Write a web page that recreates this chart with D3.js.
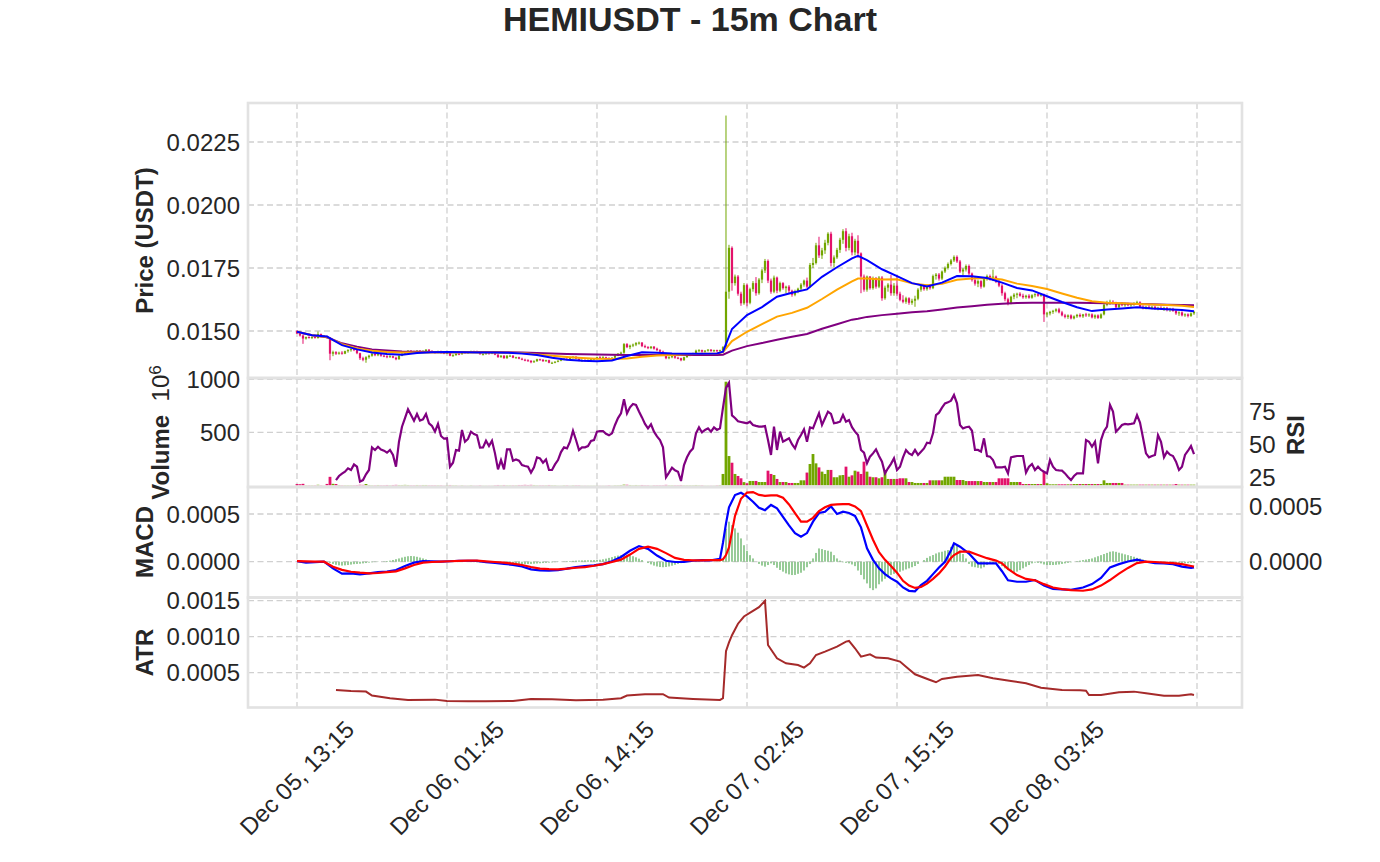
<!DOCTYPE html>
<html>
<head>
<meta charset="utf-8">
<script src="https://cdn.jsdelivr.net/npm/d3@7"></script>
<style>
  body { margin: 0; background: #fff; }
  text { font-family: "Liberation Sans", Arial, sans-serif; fill: #262626; }
</style>
</head>
<body>
<script>
// prices, MACD and ATR are kept in 1e-5 USDT, volume in 1e6
var UNIT = 1e-5;

var tickIdx = [0, 50, 100, 150, 200, 250, 300];
var tickLabels = ["Dec 05, 13:15", "Dec 06, 01:45", "Dec 06, 14:15", "Dec 07, 02:45", "Dec 07, 15:15", "Dec 08, 03:45", ""];

// open, high, low, close per 15m candle
var candles = [
[1500,1503,1488,1490],[1490,1493,1478,1482],[1482,1486,1449,1470],[1470,1478,1466,1476],[1476,1479,1470,1474],
[1474,1478,1468,1476],[1476,1480,1470,1472],[1472,1498,1470,1488],[1488,1490,1475,1478],[1478,1484,1474,1480],
[1480,1482,1470,1474],[1474,1476,1384,1410],[1410,1422,1400,1416],[1416,1420,1405,1410],[1410,1418,1406,1414],
[1414,1420,1406,1410],[1410,1422,1408,1420],[1420,1428,1414,1424],[1424,1432,1418,1428],[1428,1434,1420,1424],
[1424,1430,1408,1412],[1412,1414,1385,1392],[1392,1398,1380,1386],[1386,1400,1374,1396],[1396,1406,1390,1402],
[1402,1412,1398,1410],[1410,1412,1400,1404],[1404,1412,1400,1408],[1408,1410,1398,1402],[1402,1406,1396,1400],
[1400,1404,1392,1396],[1396,1404,1394,1400],[1400,1402,1392,1394],[1394,1398,1384,1388],[1388,1404,1386,1402],
[1402,1412,1400,1410],[1410,1418,1406,1416],[1416,1424,1412,1422],[1422,1424,1414,1418],[1418,1422,1412,1416],
[1416,1424,1414,1422],[1422,1424,1414,1418],[1418,1424,1416,1420],[1420,1428,1418,1426],[1426,1428,1418,1420],
[1420,1424,1414,1418],[1418,1420,1410,1414],[1414,1422,1412,1420],[1420,1422,1410,1414],[1414,1418,1408,1412],
[1412,1416,1408,1414],[1414,1416,1400,1402],[1402,1408,1398,1404],[1404,1412,1402,1410],[1410,1412,1404,1408],
[1408,1420,1406,1418],[1418,1420,1410,1412],[1412,1418,1410,1416],[1416,1422,1414,1420],[1420,1422,1414,1418],
[1418,1422,1414,1416],[1416,1418,1406,1408],[1408,1412,1404,1408],[1408,1416,1406,1414],[1414,1416,1406,1410],
[1410,1418,1408,1414],[1414,1416,1404,1406],[1406,1408,1394,1396],[1396,1404,1394,1402],[1402,1404,1390,1392],
[1392,1404,1390,1402],[1402,1406,1398,1402],[1402,1404,1392,1394],[1394,1398,1390,1396],[1396,1398,1388,1390],
[1390,1394,1384,1386],[1386,1390,1380,1384],[1384,1388,1378,1382],[1382,1384,1372,1376],[1376,1384,1374,1380],
[1380,1390,1378,1388],[1388,1390,1382,1386],[1386,1388,1378,1380],[1380,1386,1378,1384],[1384,1386,1372,1374],
[1374,1378,1370,1374],[1374,1380,1372,1378],[1378,1384,1376,1382],[1382,1390,1380,1388],[1388,1392,1384,1390],
[1390,1392,1384,1388],[1388,1396,1386,1394],[1394,1400,1390,1398],[1398,1400,1388,1390],[1390,1392,1380,1382],
[1382,1388,1378,1384],[1384,1388,1380,1382],[1382,1388,1378,1384],[1384,1390,1380,1388],[1388,1392,1384,1390],
[1390,1398,1386,1396],[1396,1400,1390,1394],[1394,1400,1390,1396],[1396,1398,1388,1392],[1392,1396,1386,1390],
[1390,1396,1386,1394],[1394,1404,1392,1402],[1402,1412,1400,1410],[1410,1418,1406,1414],[1414,1452,1410,1448],
[1448,1452,1432,1436],[1436,1446,1428,1442],[1442,1450,1436,1446],[1446,1456,1440,1452],[1452,1458,1446,1454],
[1454,1456,1436,1440],[1440,1446,1432,1436],[1436,1440,1428,1432],[1432,1440,1428,1438],[1438,1440,1426,1430],
[1430,1434,1420,1424],[1424,1428,1414,1418],[1418,1422,1408,1412],[1412,1414,1388,1392],[1392,1400,1388,1396],
[1396,1404,1392,1400],[1400,1402,1390,1394],[1394,1398,1388,1392],[1392,1394,1380,1384],[1384,1398,1382,1396],
[1396,1406,1394,1404],[1404,1410,1400,1408],[1408,1414,1404,1410],[1410,1426,1408,1422],[1422,1428,1416,1424],
[1424,1426,1414,1418],[1418,1424,1414,1422],[1422,1428,1418,1426],[1426,1428,1418,1420],[1420,1426,1416,1424],
[1424,1426,1416,1420],[1420,1426,1416,1424],[1424,1440,1420,1436],[1436,2355,1430,1656],[1656,1842,1628,1830],
[1830,1836,1660,1690],[1690,1724,1680,1716],[1716,1722,1640,1648],[1648,1656,1600,1610],[1610,1690,1604,1682],
[1682,1688,1598,1612],[1612,1672,1606,1666],[1666,1698,1656,1690],[1690,1714,1640,1650],[1650,1710,1644,1704],
[1704,1746,1690,1740],[1740,1786,1730,1778],[1778,1784,1690,1700],[1700,1708,1648,1656],[1656,1720,1650,1712],
[1712,1716,1650,1660],[1660,1696,1654,1690],[1690,1694,1664,1670],[1670,1680,1650,1676],[1676,1682,1650,1660],
[1660,1664,1636,1644],[1644,1664,1638,1658],[1658,1672,1650,1668],[1668,1690,1660,1684],[1684,1704,1676,1700],
[1700,1712,1670,1676],[1676,1770,1672,1762],[1762,1790,1750,1770],[1770,1850,1764,1840],[1840,1874,1790,1800],
[1800,1830,1786,1820],[1820,1862,1806,1850],[1850,1892,1840,1886],[1886,1894,1756,1770],[1770,1800,1752,1792],
[1792,1830,1786,1822],[1822,1870,1810,1862],[1862,1904,1846,1896],[1896,1908,1816,1830],[1830,1886,1820,1876],
[1876,1890,1800,1812],[1812,1866,1800,1858],[1858,1880,1790,1808],[1808,1812,1650,1716],[1716,1724,1656,1664],
[1664,1720,1656,1716],[1716,1718,1664,1670],[1670,1716,1664,1710],[1710,1714,1668,1676],[1676,1718,1670,1712],
[1712,1718,1620,1630],[1630,1680,1624,1672],[1672,1690,1656,1684],[1684,1722,1640,1650],[1650,1690,1640,1680],
[1680,1722,1640,1648],[1648,1656,1618,1624],[1624,1642,1610,1616],[1616,1636,1608,1630],[1630,1634,1604,1612],
[1612,1628,1604,1620],[1620,1640,1596,1628],[1628,1670,1622,1664],[1664,1684,1656,1680],[1680,1684,1660,1666],
[1666,1686,1660,1682],[1682,1686,1664,1670],[1670,1724,1666,1718],[1718,1730,1704,1724],[1724,1730,1700,1708],
[1708,1740,1702,1736],[1736,1756,1730,1750],[1750,1772,1744,1766],[1766,1786,1760,1780],[1780,1800,1774,1794],
[1794,1800,1770,1776],[1776,1782,1730,1736],[1736,1750,1720,1744],[1744,1764,1736,1758],[1758,1764,1722,1728],
[1728,1732,1696,1702],[1702,1716,1680,1688],[1688,1704,1674,1698],[1698,1702,1668,1676],[1676,1712,1672,1706],
[1706,1724,1700,1718],[1718,1724,1700,1712],[1712,1744,1698,1716],[1716,1720,1690,1696],[1696,1704,1674,1680],
[1680,1686,1640,1650],[1650,1656,1618,1626],[1626,1632,1602,1610],[1610,1640,1606,1636],[1636,1650,1626,1644],
[1644,1652,1630,1648],[1648,1654,1636,1640],[1640,1648,1628,1634],[1634,1644,1628,1640],[1640,1646,1628,1632],
[1632,1646,1628,1642],[1642,1650,1634,1646],[1646,1650,1636,1640],[1640,1648,1636,1644],[1644,1648,1536,1566],
[1566,1576,1556,1570],[1570,1580,1562,1576],[1576,1584,1568,1580],[1580,1590,1574,1586],[1586,1592,1570,1574],
[1574,1580,1558,1562],[1562,1568,1550,1556],[1556,1566,1548,1562],[1562,1566,1546,1550],[1550,1562,1546,1558],
[1558,1568,1552,1564],[1564,1570,1554,1558],[1558,1568,1552,1566],[1566,1572,1556,1562],[1562,1570,1556,1566],
[1566,1570,1550,1554],[1554,1566,1548,1562],[1562,1566,1548,1552],[1552,1570,1548,1566],[1566,1610,1562,1604],
[1604,1620,1598,1612],[1612,1624,1604,1616],[1616,1622,1606,1610],[1610,1616,1588,1594],[1594,1610,1590,1606],
[1606,1614,1598,1602],[1602,1612,1596,1608],[1608,1612,1598,1602],[1602,1610,1596,1606],[1606,1614,1600,1610],
[1610,1620,1604,1614],[1614,1618,1592,1596],[1596,1602,1586,1590],[1590,1600,1586,1596],[1596,1602,1588,1592],
[1592,1600,1586,1596],[1596,1600,1584,1588],[1588,1596,1582,1592],[1592,1598,1584,1588],[1588,1596,1580,1592],
[1592,1596,1578,1584],[1584,1592,1576,1588],[1588,1592,1576,1580],[1580,1586,1564,1570],[1570,1578,1560,1574],
[1574,1578,1558,1562],[1562,1570,1556,1566],[1566,1570,1554,1560],[1560,1574,1556,1570],[1570,1580,1564,1576]
];

var volumes = [
12,10,14,2,2,2,2,5,2,1, 13,80,14,12,3,2,2,2,2,2, 3,5,4,12,3,2,2,3,2,2, 3,2,3,4,3,3,4,3,2,2,
3,2,3,3,2,2,2,2,2,1, 2,3,2,2,1,2,1,1,2,1, 1,2,1,1,1,1,2,3,2,3, 2,2,2,2,3,3,4,3,4,3,
2,2,2,2,3,2,2,1,1,2, 2,1,2,2,2,1,1,1,1,1, 1,1,1,1,2,1,2,2,3,6, 5,3,2,3,2,3,2,2,1,2,
2,2,2,4,2,2,2,2,3,2, 2,2,2,3,2,2,1,1,1,1, 2,3,107,977,276,213,107,88,66,30, 19,41,41,41,31,31,31,138,107,97,
60,31,31,31,22,22,22,22,47,47, 120,201,295,207,169,129,107,145,145,76, 76,94,97,176,81,94,138,129,107,223, 129,81,76,76,66,76,145,60,60,60,
60,66,66,66,31,31,22,22,22,22, 22,47,47,47,47,47,81,81,81,81, 50,50,50,40,40,40,40,40,40,31, 31,31,31,31,66,66,66,66,31,31,
31,31,12,12,12,12,12,12,12,129, 19,9,9,9,9,9,9,9,9,12, 12,12,12,12,12,12,12,12,12,47, 22,22,22,22,22,22,6,6,6,6,
6,6,6,6,6,6,6,6,6,6, 6,6,6,12,6,6,6,6,6,6
];

// moving averages as [candle index, value]
var maFast = [[0,1497],[5,1483],[10,1478],[15,1444],[20,1427],[25,1415],[30,1409],[35,1406],[40,1413],[45,1416],
[50,1417],[55,1416],[60,1415],[65,1415],[70,1414],[75,1411],[80,1405],[85,1394],[90,1386],[95,1382],
[100,1380],[105,1383],[110,1401],[115,1416],[120,1414],[125,1411],[130,1410],[135,1410],[140,1411],[142,1418],
[145,1508],[150,1563],[155,1595],[160,1636],[165,1652],[170,1665],[175,1715],[180,1753],[185,1788],[187,1798],
[190,1781],[195,1745],[200,1718],[205,1690],[210,1677],[215,1692],[220,1718],[225,1717],[230,1710],[235,1692],
[240,1671],[245,1661],[250,1638],[255,1615],[260,1594],[265,1579],[270,1585],[275,1589],[280,1594],[285,1589],
[290,1586],[295,1583],[299,1578]];
var maMid = [[0,1497],[5,1483],[10,1476],[15,1448],[20,1431],[25,1422],[30,1417],[35,1415],[40,1415],[45,1415],
[50,1415],[55,1415],[60,1415],[65,1415],[70,1414],[75,1413],[80,1407],[85,1402],[90,1397],[95,1393],
[100,1390],[105,1389],[110,1391],[115,1398],[120,1403],[125,1405],[130,1408],[135,1410],[140,1411],[142,1416],
[145,1460],[150,1497],[155,1527],[160,1557],[165,1572],[170,1592],[175,1627],[180,1664],[185,1697],[187,1708],
[190,1708],[195,1704],[200,1705],[205,1689],[210,1682],[215,1687],[220,1703],[225,1708],[230,1710],[235,1704],
[240,1688],[245,1679],[250,1667],[255,1649],[260,1632],[265,1618],[270,1612],[275,1610],[280,1607],[285,1605],
[290,1603],[295,1600],[299,1595]];
var maSlow = [[0,1497],[5,1483],[10,1475],[15,1451],[20,1438],[25,1427],[30,1423],[35,1419],[40,1418],[45,1417],
[50,1417],[55,1417],[60,1417],[65,1417],[70,1416],[75,1415],[80,1413],[85,1411],[90,1409],[95,1408],
[100,1407],[105,1406],[110,1405],[115,1405],[120,1405],[125,1405],[130,1405],[135,1405],[140,1405],[142,1406],
[145,1422],[150,1440],[155,1452],[160,1465],[165,1477],[170,1488],[175,1509],[180,1527],[185,1545],[187,1549],
[190,1556],[195,1563],[200,1568],[205,1574],[210,1578],[215,1585],[220,1593],[225,1598],[230,1604],[235,1608],
[240,1611],[245,1612],[250,1612],[255,1612],[260,1612],[265,1611],[270,1610],[275,1609],[280,1607],[285,1606],
[290,1604],[295,1603],[299,1602]];

// RSI, one value per candle from rsiStart on
var rsiStart = 13;
var rsi = [
22.6,25.7,27.5,29.0,31.6,30.3,34.6,32.8,21.4,22.6, 27,30.3,47.6,45.6,48.1,46,45.1,43.5,45.6,41.8,
32.8,51.9,63.4,70,76.7,72.3,68.0,73.1,68.0,69.0, 73.1,66.0,63.9,59.6,65.5,56.3,54.2,54.5,32.8,35.9,
45.6,45.1,60.9,51.9,54.0,59.6,57.8,56.8,47.4,47.6, 52.7,48.6,52.7,43.0,30.8,37.9,30.8,46.1,46.1,37.4,
38.4,37.4,34.1,33.3,32.8,28.3,32.3,40.0,39.2,35.9, 38.4,30.3,30.3,34.6,37.9,44,47.6,46.8,51.9,60.3,
53.2,45.6,47.6,47.6,48.6,52.5,53.2,59.6,60.0,60.1, 58,56.8,58.3,64.7,70,73.6,84.3,73.6,78.2,80.7,
80.0,75,70.5,65.5,62.1,65.2,59.6,56,53.2,47.6, 24.7,28.3,32.1,30,29.0,21.9,34.1,40,44.3,46.8,
58.3,62.9,59,60.9,62.1,59.6,62.9,60.9,62.1,78, 93,97,72,70,67.5,67,66.5,66,67.2,64.7,
64,63.4,63.5,63.9,53.2,41.8,63.4,45.6,59.6,51.9, 53.2,54.5,50,46.8,53.2,57.0,61.4,51.9,62.9,62.1,
68,73.6,64.7,69.8,74.9,73.1,66.0,66.5,67.2,72.3, 67.2,68.5,63,59.6,57.0,45.6,43.5,35.4,40.5,43,
46.1,41.0,36.7,27.7,31.6,35,39.2,30.3,32.8,40.0, 45.6,43,41.8,45.6,41.8,44.3,46.8,51.2,50.7,58.3,
72.3,74.1,78,81.2,82,83.3,87.6,81.2,64.7,62.1, 63,63.4,60.3,45.6,45.6,44.3,54.5,41.0,40.5,37.9,
32.3,32.3,32.3,32.8,27.7,40.0,40.5,41.0,41.0,41, 28.3,32.8,34.9,30.3,32.8,30.3,29,27.7,37.9,32.8,
30.3,30,29.8,27.7,25,22.6,25.7,27.7,27.7,27.7, 53.2,51.9,48.1,51.9,35.4,53.2,60,63.4,80.0,74.9,
59.6,62,64.7,65.5,65.2,65.5,66.0,72.3,66.5,55, 43.0,40.0,41,41.8,57.0,51.9,40.0,44.3,42,41.0,
36.7,30.3,32.8,41.8,45,48.6,42.5
];

// MACD line and signal as [candle index, value]
var macdLine = [[0,0.7],[3,-1],[6,-0.5],[9,0],[12,-7],[15,-12.5],[18,-12.3],[21,-13.3],[24,-12.2],[27,-11],
[30,-10.4],[33,-8.7],[36,-4.5],[39,-1],[42,0.7],[45,0.3],[48,0],[51,0.5],[54,1],[57,1],
[60,0.8],[63,-0.5],[66,-1.2],[69,-2.2],[72,-3.3],[75,-5],[78,-8],[81,-9],[84,-9.4],[87,-8.9],
[90,-7.2],[93,-5.6],[96,-4.6],[99,-3.8],[102,-2.5],[105,0.5],[108,5],[111,11.5],[114,16.4],[117,13.5],
[120,6.5],[123,1],[126,-0.3],[129,-0.3],[132,1],[135,1.7],[138,1.5],[141,3],[142,20],[143,40],
[144,57],[146,69.9],[148,72.3],[150,68.5],[152,62.9],[154,56.5],[156,54],[158,59.5],[160,56],[162,47],
[164,38],[166,30],[168,26.2],[170,30],[172,42],[174,51],[176,52.4],[178,58],[180,50],[182,52.4],
[184,51],[186,48],[188,36],[190,14],[192,2],[194,-7],[196,-13],[198,-17.5],[200,-21],[202,-27],
[204,-30.5],[206,-31],[208,-24.5],[210,-20],[212,-13],[214,-6],[216,0],[218,12],[219,19.2],[221,15.7],
[224,8.5],[227,-1.7],[230,-1.7],[233,-1.7],[235,-10],[237,-19.5],[240,-21],[243,-21],[246,-19.2],[249,-25],
[252,-28.5],[255,-29],[258,-29.5],[262,-27],[265,-23.5],[268,-17],[271,-5.9],[274,-2.5],[277,0.2],[280,2.2],
[283,0],[286,-1.5],[289,-1.7],[292,-2.5],[295,-5.2],[298,-6.5],[299,-5.9]];
var macdSignal = [[0,0.7],[3,0.3],[6,0],[9,0],[12,-5.2],[15,-8.5],[18,-10.5],[21,-11.5],[24,-12.2],[27,-11.8],
[30,-11],[33,-10.1],[36,-7],[39,-3.5],[42,-1],[45,-0.3],[48,0],[51,0.5],[54,0.8],[57,1.2],
[60,1.2],[63,0.4],[66,-0.3],[69,-0.9],[72,-2],[75,-3.4],[78,-5.5],[81,-7.3],[84,-7.8],[87,-8],
[90,-7.3],[93,-6.3],[96,-5.6],[99,-4.2],[102,-2.5],[105,-0.3],[108,2.2],[111,7.5],[114,13.5],[117,15.7],
[120,13.5],[123,9],[126,4],[129,2],[132,1.5],[135,1.4],[138,1.6],[141,1.7],[142,2.5],[143,7],
[144,15],[146,48],[148,66],[150,72.5],[152,73],[154,70],[156,69],[158,69.5],[160,69.5],[162,67],
[164,60],[166,51],[168,42],[170,42],[172,46],[174,53],[176,57],[178,59.5],[180,60],[182,60.4],
[184,60.3],[186,58],[188,53],[190,38],[192,23],[194,10],[196,2],[198,-4.5],[200,-11.5],[202,-20],
[204,-25],[206,-27.5],[208,-26.5],[210,-23],[212,-18],[214,-12.2],[216,-5],[218,4],[219,7],[221,10.5],
[224,10.5],[227,7],[230,3.7],[233,1.2],[235,-1.7],[237,-7.5],[240,-14],[243,-18],[246,-19.5],[249,-23.5],
[252,-27],[255,-28.8],[258,-29.7],[262,-30.4],[265,-29],[268,-25],[271,-19.2],[274,-12.5],[277,-6.5],[280,-1.5],
[283,0],[286,-0.3],[289,-1],[292,-1.5],[295,-2.5],[298,-4.5],[299,-5.2]];

// MACD histogram, one bar per candle (right axis)
var macdHist = [
0,-0.3,-0.5,-0.5,-0.3,0,0.2,0.3,0.2,0, -0.3,-1,-2,-2.8,-3.3,-3.5,-3.3,-3,-2.6,-2.2,
-2,-1.8,-1.5,-1.2,-0.8,-0.5,-0.3,-0.2,0,0.3, 0.6,1,1.6,2.3,3,3.8,4.5,5,5.2,5,
4.5,3.8,3,2.2,1.5,0.8,0.4,0.2,0,0, 0,0,0.2,0.3,0.3,0.2,0,-0.2,-0.3,-0.4,
-0.5,-0.6,-0.7,-0.8,-0.9,-1,-1.1,-1.2,-1.2,-1.3, -1.3,-1.4,-1.6,-1.8,-2,-2.1,-2.2,-2.1,-2,-1.8,
-1.6,-1.4,-1.2,-1,-0.8,-0.6,-0.4,-0.2,0,0.2, 0.4,0.6,0.8,1,1.1,1.2,1.3,1.3,1.4,1.5,
1.6,1.8,2.2,2.8,3.5,4.2,5,5.6,6,6.3, 6.2,5.8,5,4,2.8,1.5,0,-1.2,-2.4,-3.5,
-4.3,-4.8,-5,-4.8,-4.3,-3.6,-2.8,-2,-1.3,-0.7, -0.2,0.2,0.4,0.5,0.4,0.3,0.2,0.1,0,0,
0.2,0.5,3,30,36.4,33.3,30.3,26.4,21.2,15, 10,6,3,0,-2,-3.5,-4.5,-3,-1.5,-3,
-5.5,-7.5,-9,-10.6,-11.5,-12.1,-12,-11,-10,-8, -5,-2,3,8,12.1,11.5,10.6,10,9.1,6,
3,1,-0.5,-1,-1.5,-2.5,-4,-8,-12,-16, -19.7,-24,-25.8,-24.2,-20.5,-18,-15.5,-13.6,-12,-11,
-10,-9.1,-8,-7,-6,-5,-3.9,-2,0,1.5, 3.5,5,6.1,7.5,8.5,9.1,10,10.6,13.5,16.7,
15,10,7,3,-2,-4.5,-5,-5.5,-6.1,-5, -3,-2,-1.5,-1,-2,-4,-6,-7.6,-9,-10,
-9,-7.6,-6,-4.5,-3,-1.5,-0.8,-1,-1.5,-2.5, -3,-3,-3,-2.8,-2.5,-2,-1.5,-1,-0.5,0,
0.5,1,1.5,2,2.5,3,4,5,6,7, 8,9.1,9.5,9,8.2,7.5,6.7,6,5.2,4.5,
3.5,3,2,1,0.5,0,-0.3,-0.5,-0.6,-0.7, -0.8,-0.8,-0.9,-1,-1,-1.2,-1.3,-1.3,-1.2,-1
];

// ATR as [candle index, value]
var atr = [[13,26],[18,24.6],[23,23.8],[25,18.2],[31,14.5],[37,12.2],[46,12.6],[50,10.7],[57,10.3],[63,10.3],
[72,10.7],[78,13.5],[85,13],[93,11.7],[102,12.6],[108,14.5],[110,18.2],[116,20.1],[122,20.1],[124,15.4],
[132,13.5],[141,12.1],[142,14.5],[143,80],[144,92],[145,102],[146,110],[147,118],[149,128],[152,135.8],
[154,141],[156,149.7],[157,88.4],[160,69.9],[163,63],[167,60.7],[169,57],[171,63],[173,74.6],[176,79.3],
[180,86.2],[183,93.2],[184,94.1],[186,83.9],[188,72.3],[191,75.6],[193,71],[197,70],[201,65.4],[203,58.4],
[206,47.8],[211,39.9],[213,36.7],[215,41.3],[220,44.5],[227,46.8],[232,42.2],[238,38.5],[243,35.2],[248,29.2],
[255,26],[261,25.5],[263,25],[264,19],[268,19],[274,22.7],[279,23.7],[283,21.3],[289,18.1],[294,18.1],
[298,20],[299,19]];

var UP = "#72a600", DOWN = "#e3126b";

var svg = d3.select("body").append("svg")
    .attr("width", 1380)
    .attr("height", 862);

var left = 248, right = 1242;
var x = d3.scaleLinear().domain([-16.33, 315]).range([left, right]);

var panels = {
  price: [103, 378],
  vol:   [378, 487],
  macd:  [487, 597.5],
  atr:   [597.5, 707.5]
};

var yPrice = d3.scaleLinear().domain([1313.5, 2404.8]).range([378, 103]);
var yVol = d3.scaleLinear().domain([-16, 1012]).range([487, 378]);
var yRsi = d3.scaleLinear().domain([17.3, 100.6]).range([487, 378]);
var yMacd = d3.scaleLinear().domain([-37.5, 78.3]).range([597.5, 487]);
var yHist = d3.scaleLinear().domain([-32.5, 67.9]).range([597.5, 487]);
var yAtr = d3.scaleLinear().domain([1.67, 154.4]).range([707.5, 597.5]);

var defs = svg.append("defs");
Object.keys(panels).forEach(function (k) {
  defs.append("clipPath").attr("id", "clip-" + k)
    .append("rect")
    .attr("x", left).attr("y", panels[k][0])
    .attr("width", right - left).attr("height", panels[k][1] - panels[k][0]);
});

var gridColor = "#d0d0d0";

function grid(panel, scale, ticks) {
  var g = svg.append("g");
  g.selectAll("line.v").data(tickIdx).enter().append("line")
    .attr("x1", function (d) { return x(d); }).attr("x2", function (d) { return x(d); })
    .attr("y1", panels[panel][0]).attr("y2", panels[panel][1])
    .attr("stroke", gridColor).attr("stroke-width", 1.3).attr("stroke-dasharray", "6,3.5");
  g.selectAll("line.h").data(ticks).enter().append("line")
    .attr("x1", left).attr("x2", right)
    .attr("y1", function (d) { return scale(d); }).attr("y2", function (d) { return scale(d); })
    .attr("stroke", gridColor).attr("stroke-width", 1.3).attr("stroke-dasharray", "6,3.5");
}

function leftLabels(scale, ticks, fmt) {
  svg.append("g").selectAll("text").data(ticks).enter().append("text")
    .attr("x", 240).attr("y", function (d) { return scale(d); })
    .attr("dy", "0.36em").attr("text-anchor", "end")
    .style("font-size", "24px")
    .text(fmt);
}

function rightLabels(scale, ticks, fmt) {
  svg.append("g").selectAll("text").data(ticks).enter().append("text")
    .attr("x", 1249).attr("y", function (d) { return scale(d); })
    .attr("dy", "0.36em").attr("text-anchor", "start")
    .style("font-size", "24px")
    .text(fmt);
}

function fmtUnit(d) { return (d * UNIT).toFixed(4); }

var priceTicks = [1500, 1750, 2000, 2250];
var volTicks = [500, 1000];
var rsiTicks = [25, 50, 75];
var macdTicks = [0, 50];
var histTicks = [0, 50];
var atrTicks = [50, 100, 150];

grid("price", yPrice, priceTicks);
grid("vol", yVol, volTicks);
grid("macd", yMacd, macdTicks);
grid("atr", yAtr, atrTicks);

// ---- price panel
var gp = svg.append("g").attr("clip-path", "url(#clip-price)");
gp.selectAll("line.wick").data(candles).enter().append("line")
  .attr("x1", function (d, i) { return x(i); })
  .attr("x2", function (d, i) { return x(i); })
  .attr("y1", function (d) { return yPrice(d[1]); })
  .attr("y2", function (d) { return yPrice(d[2]); })
  .attr("stroke", function (d) { return d[3] >= d[0] ? UP : DOWN; })
  .attr("stroke-width", 1);
gp.selectAll("rect.body").data(candles).enter().append("rect")
  .attr("x", function (d, i) { return x(i) - 1.1; })
  .attr("width", 2.2)
  .attr("y", function (d) { return yPrice(Math.max(d[0], d[3])); })
  .attr("height", function (d) { return Math.max(1, Math.abs(yPrice(d[0]) - yPrice(d[3]))); })
  .attr("fill", function (d) { return d[3] >= d[0] ? UP : DOWN; });

var idxLine = function (scale) {
  return d3.line().x(function (d) { return x(d[0]); }).y(function (d) { return scale(d[1]); });
};

[[maSlow, "purple"], [maMid, "orange"], [maFast, "blue"]].forEach(function (s) {
  gp.append("path").datum(s[0])
    .attr("d", idxLine(yPrice))
    .attr("fill", "none").attr("stroke", s[1]).attr("stroke-width", 2);
});

// ---- volume + RSI panel
var gv = svg.append("g").attr("clip-path", "url(#clip-vol)");
gv.selectAll("rect").data(volumes).enter().append("rect")
  .attr("x", function (d, i) { return x(i) - 1.4; })
  .attr("width", 2.8)
  .attr("y", function (d) { return yVol(d); })
  .attr("height", function (d) { return yVol(0) - yVol(d); })
  .attr("fill", function (d, i) { return candles[i][3] >= candles[i][0] ? UP : DOWN; });

var rsiPts = rsi.map(function (v, k) { return [rsiStart + k, v]; });
gv.append("path").datum(rsiPts)
  .attr("d", idxLine(yRsi))
  .attr("fill", "none").attr("stroke", "purple").attr("stroke-width", 2.2);

// ---- MACD panel
var gm = svg.append("g").attr("clip-path", "url(#clip-macd)");
gm.selectAll("rect").data(macdHist).enter().append("rect")
  .attr("x", function (d, i) { return x(i) - 0.8; })
  .attr("width", 1.6)
  .attr("y", function (d) { return Math.min(yHist(d), yHist(0)); })
  .attr("height", function (d) { return Math.abs(yHist(d) - yHist(0)); })
  .attr("fill", "#7fbf7f");
gm.append("path").datum(macdLine)
  .attr("d", idxLine(yMacd))
  .attr("fill", "none").attr("stroke", "blue").attr("stroke-width", 2.2);
gm.append("path").datum(macdSignal)
  .attr("d", idxLine(yMacd))
  .attr("fill", "none").attr("stroke", "red").attr("stroke-width", 2.2);

// ---- ATR panel
var ga = svg.append("g").attr("clip-path", "url(#clip-atr)");
ga.append("path").datum(atr)
  .attr("d", idxLine(yAtr))
  .attr("fill", "none").attr("stroke", "brown").attr("stroke-width", 2);

// panel frames
Object.keys(panels).forEach(function (k) {
  svg.append("rect")
    .attr("x", left).attr("y", panels[k][0])
    .attr("width", right - left).attr("height", panels[k][1] - panels[k][0])
    .attr("fill", "none").attr("stroke", "#e2e2e2").attr("stroke-width", 2.6);
});

// tick labels
leftLabels(yPrice, priceTicks, fmtUnit);
leftLabels(yVol, volTicks, function (d) { return d; });
leftLabels(yMacd, macdTicks, fmtUnit);
leftLabels(yAtr, atrTicks, fmtUnit);
rightLabels(yRsi, rsiTicks, function (d) { return d; });
rightLabels(yHist, histTicks, fmtUnit);

svg.append("g").selectAll("text").data(tickIdx).enter().append("text")
  .attr("transform", function (d) { return "translate(" + x(d) + ",778) rotate(-45)"; })
  .attr("text-anchor", "middle").attr("dy", "0.35em")
  .style("font-size", "24px")
  .text(function (d, i) { return tickLabels[i]; });

// axis titles
function yTitle(tx, ty, txt) {
  return svg.append("text")
    .attr("transform", "translate(" + tx + "," + ty + ") rotate(-90)")
    .attr("text-anchor", "middle")
    .style("font-size", "24px").style("font-weight", "bold")
    .text(txt);
}
yTitle(153, 240.5, "Price (USDT)");
yTitle(153, 542, "MACD");
yTitle(153, 652.5, "ATR");
yTitle(1304, 435, "RSI");

var volTitle = svg.append("text")
  .attr("transform", "translate(169,432.5) rotate(-90)")
  .attr("text-anchor", "middle")
  .style("font-size", "24px");
volTitle.append("tspan").style("font-weight", "bold").text("Volume");
volTitle.append("tspan").text("\u00a0\u00a010");
volTitle.append("tspan").attr("dy", "-0.45em").style("font-size", "17px").text("6");

svg.append("text")
  .attr("x", 690).attr("y", 31)
  .attr("text-anchor", "middle")
  .style("font-size", "34px").style("font-weight", "bold")
  .text("HEMIUSDT - 15m Chart");
</script>
</body>
</html>
